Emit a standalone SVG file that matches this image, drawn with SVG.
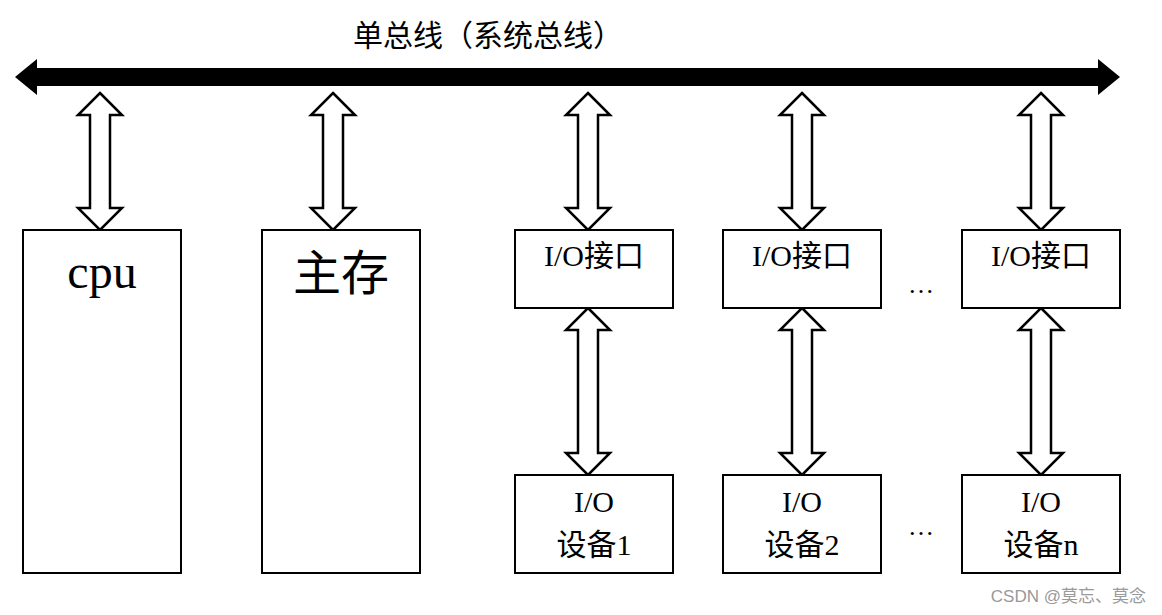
<svg xmlns="http://www.w3.org/2000/svg" width="1162" height="615" viewBox="0 0 1162 615">
<style>
.b{fill:#fff;stroke:#000;stroke-width:2}
.a{fill:#fff;stroke:#000;stroke-width:2.5;stroke-linejoin:miter}
.t{font-family:"Liberation Serif","Noto Sans CJK SC",serif;fill:#000;text-anchor:middle}
</style>
<defs>
<path id="up" class="a" d="M0,0 L22,22 L10,22 L10,115 L22,115 L0,137 L-22,115 L-10,115 L-10,22 L-22,22 Z"/>
<path id="lo" class="a" d="M0,0 L22,22 L10,22 L10,145 L22,145 L0,167 L-22,145 L-10,145 L-10,22 L-22,22 Z"/>
</defs>
<rect width="1162" height="615" fill="#fff"/>
<text class="t" x="488" y="46" font-size="30">单总线（系统总线）</text>
<g id="connectors">
<path d="M15,77 L37,59 L37,68 L1098,68 L1098,59 L1120,77 L1098,95 L1098,86 L37,86 L37,95 Z" fill="#000"/>
<use href="#up" x="100" y="93"/>
<use href="#up" x="333" y="93"/>
<use href="#up" x="588" y="93"/>
<use href="#up" x="802" y="93"/>
<use href="#up" x="1041" y="93"/>
<use href="#lo" x="588" y="308"/>
<use href="#lo" x="802" y="308"/>
<use href="#lo" x="1041" y="308"/>
</g>
<g id="cpu"><rect class="b" x="23" y="230" width="158" height="343"/><text class="t" x="102" y="288" font-size="48">cpu</text></g>
<g id="mem"><rect class="b" x="262" y="230" width="158" height="343"/><text class="t" x="341" y="290" font-size="48">主存</text></g>
<g id="if1"><rect class="b" x="515" y="230" width="158" height="78"/><text class="t" x="594" y="266" font-size="30">I/O接口</text></g>
<g id="if2"><rect class="b" x="723" y="230" width="158" height="78"/><text class="t" x="802" y="266" font-size="30">I/O接口</text></g>
<g id="ifn"><rect class="b" x="962" y="230" width="158" height="78"/><text class="t" x="1041" y="266" font-size="30">I/O接口</text></g>
<g id="dev1"><rect class="b" x="515" y="475" width="158" height="98"/><text class="t" x="594" y="512" font-size="30">I/O</text><text class="t" x="594" y="555" font-size="30">设备1</text></g>
<g id="dev2"><rect class="b" x="723" y="475" width="158" height="98"/><text class="t" x="802" y="512" font-size="30">I/O</text><text class="t" x="802" y="555" font-size="30">设备2</text></g>
<g id="devn"><rect class="b" x="962" y="475" width="158" height="98"/><text class="t" x="1041" y="512" font-size="30">I/O</text><text class="t" x="1041" y="555" font-size="30">设备n</text></g>
<text class="t" x="921" y="293" font-size="26">…</text>
<text class="t" x="921" y="535" font-size="26">…</text>
<text x="1146" y="602" font-size="17" fill="#999" text-anchor="end" font-family="Liberation Sans,Noto Sans CJK SC,sans-serif">CSDN @莫忘、莫念</text>
</svg>
